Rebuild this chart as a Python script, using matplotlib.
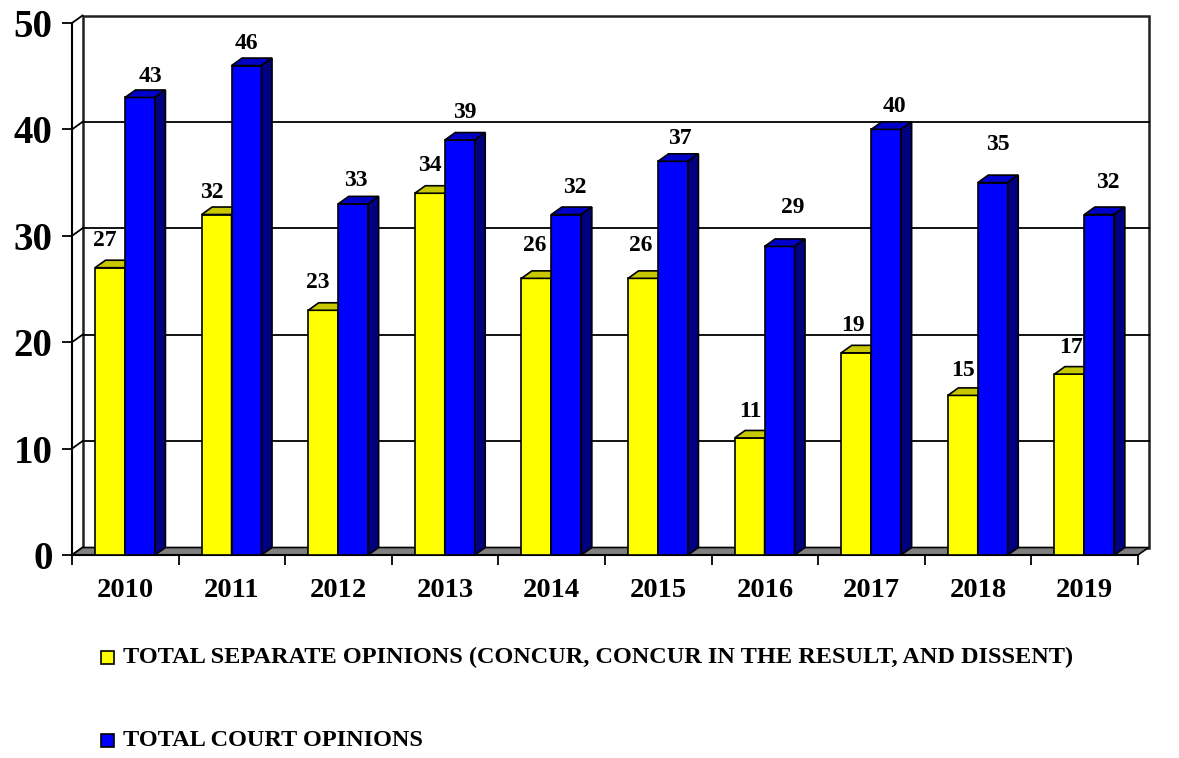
import matplotlib
matplotlib.use('Agg')
import matplotlib.pyplot as plt
import matplotlib.patches as patches
import numpy as np

# 数据
years = ['2010', '2011', '2012', '2013', '2014', '2015', '2016', '2017', '2018', '2019']
separate_opinions = [27, 32, 23, 34, 26, 26, 11, 19, 15, 17]
court_opinions = [43, 46, 33, 39, 32, 37, 29, 40, 35, 32]
y_ticks = [0, 10, 20, 30, 40, 50]

# 数值标签的像素偏移 (dx, dy)，相对于柱子正面顶部中心
sep_label_offsets = [(-5, 27), (-5, 22), (-5, 28), (0, 28), (-2, 33),
                     (-2, 33), (1, 26), (-3, 27), (0, 25), (2, 27)]
court_label_offsets = [(10, 21), (0, 22), (3, 23), (5, 28), (8, 27),
                       (7, 23), (13, 39), (8, 23), (5, 38), (8, 32)]

# 颜色
YELLOW = '#FFFF00'
YELLOW_TOP = '#C8C800'
BLUE = '#0000FF'
BLUE_TOP = '#0000C8'
BLUE_SIDE = '#000080'
FLOOR = '#808080'
SERIF = 'Liberation Serif'

W, H = 1179, 758
fig = plt.figure(figsize=(W / 100, H / 100), dpi=100)

# 前平面: x 72..1138 px, y 23..555 px (从上往下)
left, right, top, bottom = 72, 1138, 23, 555
ax = fig.add_axes([left / W, 1 - bottom / H, (right - left) / W, (bottom - top) / H])
n = len(years)
ax.set_xlim(0, n)
ax.set_ylim(0, 50)

# 深度偏移 (像素 -> 数据单位)
depth_dx_px, depth_dy_px = 10.5, 7.5
dxd = depth_dx_px / ((right - left) / n)
dyd = depth_dy_px / ((bottom - top) / 50)

edge_kw = dict(edgecolor='black', linewidth=1.2, clip_on=False)

# 背墙
back = patches.Rectangle((dxd, dyd), n, 50, facecolor='white', edgecolor='#202020',
                         linewidth=1.8, clip_on=False, zorder=0.5)
ax.add_patch(back)
for v in y_ticks:
    if 0 < v < 50:
        ax.plot([dxd, n + dxd], [v + dyd, v + dyd], color='black', lw=1.3,
                clip_on=False, zorder=0.6)
    # 左侧墙的斜线
    ax.plot([0, dxd], [v, v + dyd], color='black', lw=1.3, clip_on=False, zorder=0.6)

# 地板
floor = patches.Polygon([(0, 0), (n, 0), (n + dxd, dyd), (dxd, dyd)], closed=True,
                        facecolor=FLOOR, zorder=0.7, **edge_kw)
ax.add_patch(floor)

x = np.arange(n)
bar_w = 0.281
x_sep = x + 0.216
x_court = x_sep + bar_w


def draw_bar_3d(x0, v, face, top_col, side_col, z):
    ax.bar(x0, v, width=bar_w, align='edge', color=face, edgecolor='black',
           linewidth=1.2, zorder=z, clip_on=False)
    top_poly = [(x0, v), (x0 + bar_w, v), (x0 + bar_w + dxd, v + dyd), (x0 + dxd, v + dyd)]
    ax.add_patch(patches.Polygon(top_poly, closed=True, facecolor=top_col, zorder=z, **edge_kw))
    side_poly = [(x0 + bar_w, 0), (x0 + bar_w, v), (x0 + bar_w + dxd, v + dyd), (x0 + bar_w + dxd, dyd)]
    ax.add_patch(patches.Polygon(side_poly, closed=True, facecolor=side_col, zorder=z, **edge_kw))


for i in range(n):
    draw_bar_3d(x_sep[i], separate_opinions[i], YELLOW, YELLOW_TOP, YELLOW_TOP, 2 + i * 0.1)
    draw_bar_3d(x_court[i], court_opinions[i], BLUE, BLUE_TOP, BLUE_SIDE, 2.05 + i * 0.1)

# 数值标签
for i in range(n):
    for xs, vals, offs in ((x_sep, separate_opinions, sep_label_offsets),
                           (x_court, court_opinions, court_label_offsets)):
        ax.annotate(str(vals[i]), xy=(xs[i] + bar_w / 2, vals[i]), xytext=offs[i],
                    textcoords='offset pixels', ha='center', va='center',
                    fontsize=17, fontweight='bold', family=SERIF, zorder=10,
                    annotation_clip=False)

# 坐标轴
for s in ['top', 'right']:
    ax.spines[s].set_visible(False)
for s in ['left', 'bottom']:
    ax.spines[s].set_linewidth(1.5)
    ax.spines[s].set_zorder(1)
ax.set_facecolor('none')

ax.set_yticks(y_ticks)
ax.set_yticklabels([str(v) for v in y_ticks], fontsize=28, fontweight='bold', family=SERIF)
ax.tick_params(axis='y', direction='out', length=7.5, width=1.3, pad=6.5)

ax.set_xticks(np.arange(n + 1))
ax.set_xticklabels([])
ax.tick_params(axis='x', which='major', direction='out', length=7.5, width=1.3)
ax.set_xticks(x + 0.5, minor=True)
ax.set_xticklabels(years, minor=True, fontsize=20.5, fontweight='bold', family=SERIF)
ax.tick_params(axis='x', which='minor', length=0, pad=16.5)

# 图例
legend_items = [
    ('TOTAL SEPARATE OPINIONS (CONCUR, CONCUR IN THE RESULT, AND DISSENT)', YELLOW, 657),
    ('TOTAL COURT OPINIONS', BLUE, 740),
]
for label, col, yc in legend_items:
    sq = 13
    fig.add_artist(patches.Rectangle((101 / W, 1 - (yc + sq / 2) / H), sq / W, sq / H,
                                     transform=fig.transFigure, facecolor=col,
                                     edgecolor='black', linewidth=1.2))
    fig.text(123 / W, 1 - yc / H, label, ha='left', va='center', fontsize=17.5,
             fontweight='bold', family=SERIF)

fig.savefig('out.png', dpi=100)
